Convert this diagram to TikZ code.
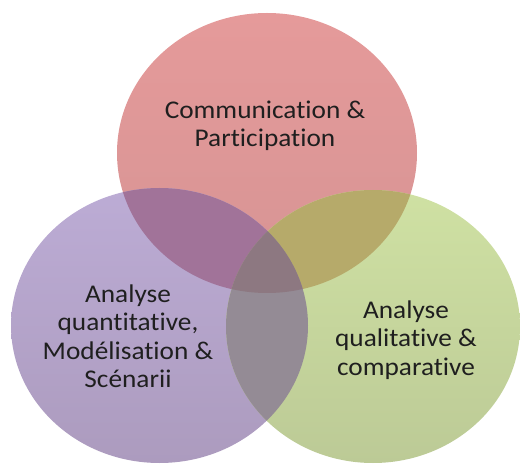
\documentclass[tikz,border=0pt]{standalone}
\usepackage{fontspec}
\setmainfont{Carlito}[Ligatures=NoCommon]
\definecolor{commtop}{RGB}{229,154,154}
\definecolor{commbot}{RGB}{214,148,148}
\definecolor{quanttop}{RGB}{188,172,213}
\definecolor{quantbot}{RGB}{172,155,190}
\definecolor{qualtop}{RGB}{207,225,163}
\definecolor{qualbot}{RGB}{188,202,150}
\definecolor{commquant}{RGB}{161,115,153}
\definecolor{commqual}{RGB}{182,170,106}
\definecolor{quantqual}{RGB}{148,139,149}
\definecolor{allthree}{RGB}{141,120,129}
\tikzset{
	rcomm/.style={x radius=150, y radius=140},
	rquant/.style={x radius=148.5, y radius=137.5},
	rqual/.style={x radius=147, y radius=136.5},
	lbl/.style={align=center, text=black!88, xscale=1.07, font=\fontsize{25.5}{28.5}\selectfont}
}
\begin{document}
\begin{tikzpicture}[x=1pt, y=1pt]
		\useasboundingbox (0,0) rectangle (520,464);
		\coordinate (comm) at (267,311);
		\coordinate (quant) at (159.5,138.5);
		\coordinate (qual) at (373,137.5);

		% the three sets
		\shade[top color=commtop, bottom color=commbot] (comm) ellipse [rcomm];
		\shade[top color=quanttop, bottom color=quantbot] (quant) ellipse [rquant];
		\shade[top color=qualtop, bottom color=qualbot] (qual) ellipse [rqual];

		% overlaps
		\begin{scope}
			\clip (comm) ellipse [rcomm];
			\fill[commquant] (quant) ellipse [rquant];
			\fill[commqual] (qual) ellipse [rqual];
		\end{scope}
		\begin{scope}
			\clip (quant) ellipse [rquant];
			\fill[quantqual] (qual) ellipse [rqual];
		\end{scope}
		\begin{scope}
			\clip (comm) ellipse [rcomm];
			\clip (quant) ellipse [rquant];
			\fill[allthree] (qual) ellipse [rqual];
		\end{scope}

		\node[lbl] (tcomm) at (265,338) {Communication \&\\Participation};
		\node[lbl] (tquant) at (128,128) {Analyse\\quantitative,\\Modélisation \&\\Scénarii};
		\node[lbl] (tqual) at (406,124) {Analyse\\qualitative \&\\comparative};
	\end{tikzpicture}
\end{document}
